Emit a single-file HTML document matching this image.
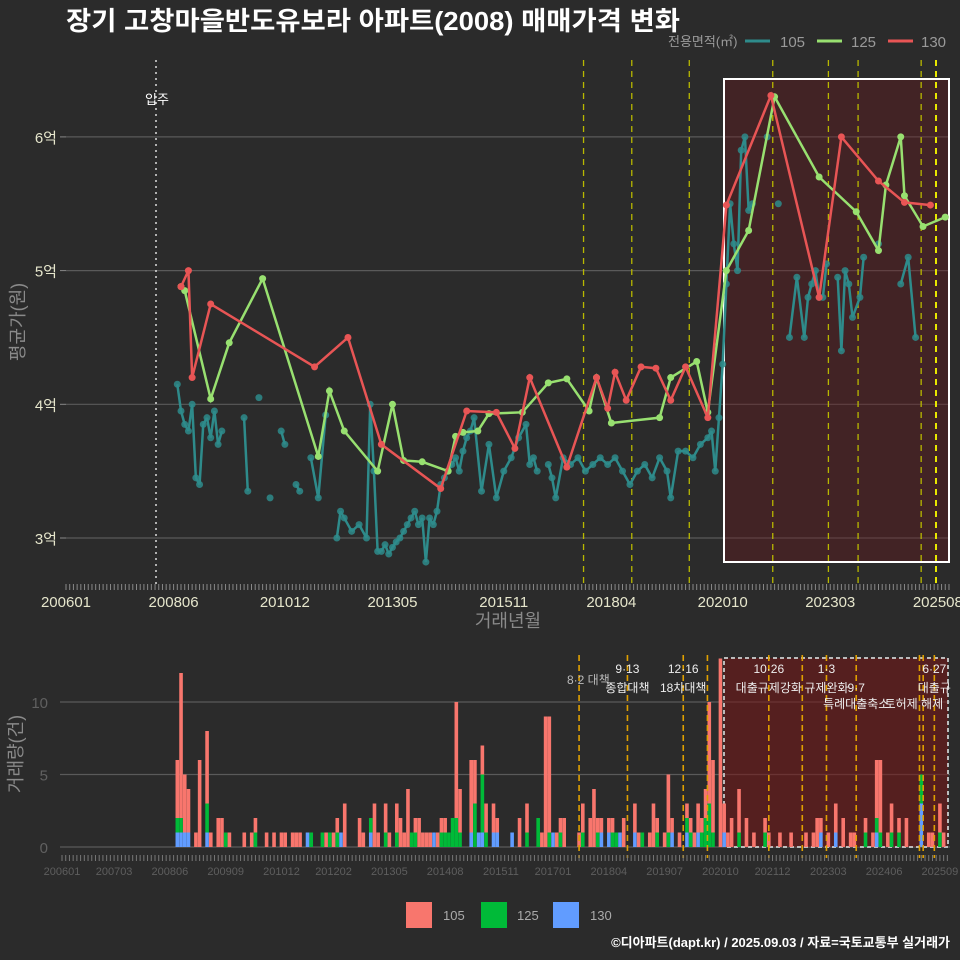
<!DOCTYPE html>
<html><head><meta charset="utf-8">
<style>
html,body{margin:0;padding:0;background:#2b2b2b;}
svg{display:block;font-family:"Liberation Sans","Noto Sans CJK KR",sans-serif;}
</style></head>
<body>
<svg id="chart" width="960" height="960" viewBox="0 0 960 960">
<rect x="0" y="0" width="960" height="960" fill="#2b2b2b"/>
<text x="66" y="30" fill="#ffffff" font-size="26" font-weight="bold" textLength="614" lengthAdjust="spacingAndGlyphs">장기 고창마을반도유보라 아파트(2008) 매매가격 변화</text>
<g>
<text x="668" y="46" fill="#9a9a9a" font-size="13">전용면적(㎡)</text>
<line x1="745" y1="41" x2="770" y2="41" stroke="#2e8b8b" stroke-width="3"/>
<text x="780" y="47" fill="#9a9a9a" font-size="15">105</text>
<line x1="817" y1="41" x2="842" y2="41" stroke="#98e070" stroke-width="3"/>
<text x="851" y="47" fill="#9a9a9a" font-size="15">125</text>
<line x1="888" y1="41" x2="913" y2="41" stroke="#e85555" stroke-width="3"/>
<text x="921" y="47" fill="#9a9a9a" font-size="15">130</text>
</g>
<g id="top"></g>
<g id="bottom"></g>
<g>
<rect x="406" y="902" width="26" height="26" fill="#f8766d"/>
<text x="443" y="920" fill="#aaaaaa" font-size="13">105</text>
<rect x="481" y="902" width="26" height="26" fill="#00ba38"/>
<text x="517" y="920" fill="#aaaaaa" font-size="13">125</text>
<rect x="553" y="902" width="26" height="26" fill="#619cff"/>
<text x="590" y="920" fill="#aaaaaa" font-size="13">130</text>
</g>
<text x="950" y="947" text-anchor="end" fill="#ffffff" font-size="13" font-weight="bold">©디아파트(dapt.kr) / 2025.09.03 / 자료=국토교통부 실거래가</text>
</svg>
<script>
// ---- price data (month index from 2006-01, price in 억) ----
const redMonths = [31,33,34,39,67,76,85,101,108,116,121,125,135,143,146,148,151,155,159,163,167,173,178,190,203,209,219,226,233];
const redValues = [4.88,5.0,4.2,4.75,4.28,4.5,3.7,3.37,3.95,3.94,3.67,4.2,3.53,4.2,3.97,4.24,4.03,4.28,4.27,4.03,4.28,3.9,5.49,6.31,4.8,6.0,5.67,5.51,5.49];
const greenMonths = [31,32,39,44,53,68,71,75,84,88,91,96,103,105,107,111,114,123,130,135,141,143,147,160,163,170,173,178,184,191,203,213,219,221,225,226,231,237];
const greenValues = [4.88,4.85,4.04,4.46,4.94,3.61,4.1,3.8,3.5,4.0,3.58,3.57,3.5,3.76,3.79,3.8,3.93,3.94,4.16,4.19,3.95,4.2,3.86,3.9,4.2,4.32,3.94,5.0,5.3,6.3,5.7,5.44,5.15,5.64,6.0,5.56,5.33,5.4];
const tealMonths = ["200807","200808","200809","200810","200811","200812","200901","200902","200903","200904","200905","200906","200907","201001","201002","201005","201008","201011","201012","201103","201104","201107","201109","201111","201202","201203","201204","201206","201208","201210","201211","201212","201301","201302","201303","201304","201305","201306","201307","201308","201309","201310","201311","201312","201401","201402","201403","201404","201405","201406","201407","201408","201409","201410","201411","201412","201501","201502","201503","201505","201507","201509","201511","201601","201603","201605","201606","201607","201608","201611","201612","201701","201703","201705","201707","201709","201711","201801","201803","201805","201807","201809","201811","201901","201903","201905","201907","201908","201910","201912","202002","202004","202006","202007","202008","202009","202010","202011","202012","202101","202102","202103","202104","202105","202106","202110","202201","202204","202206","202208","202209","202210","202211","202212","202301","202302","202305","202306","202307","202308","202309","202311","202312","202404","202410","202412","202502"];
const tealValues = [4.15,3.95,3.85,3.8,4.0,3.45,3.4,3.85,3.9,3.75,3.95,3.7,3.8,3.9,3.35,4.05,3.3,3.8,3.7,3.4,3.35,3.6,3.3,3.92,3.0,3.2,3.15,3.05,3.1,3.0,4.0,3.5,2.9,2.9,2.95,2.88,2.93,2.97,3.0,3.05,3.1,3.15,3.2,3.1,3.15,2.82,3.15,3.1,3.2,3.4,3.45,3.5,3.55,3.6,3.5,3.65,3.75,3.8,3.9,3.35,3.7,3.3,3.5,3.6,3.75,3.85,3.55,3.6,3.5,3.55,3.45,3.3,3.6,3.55,3.6,3.5,3.55,3.6,3.55,3.6,3.5,3.4,3.5,3.55,3.45,3.6,3.5,3.3,3.65,3.65,3.6,3.7,3.75,3.8,3.5,3.9,4.3,4.9,5.5,5.2,5.0,5.9,6.0,5.45,5.5,6.0,5.5,4.5,4.95,4.5,4.8,4.9,5.0,4.8,4.8,5.05,4.95,4.4,5.0,4.9,4.65,4.8,5.1,5.2,4.9,5.1,4.5];
const priceTicks = [3,4,5,6];
const priceTickLabels = ["3억","4억","5억","6억"];
const topXTicks = [0,29,59,88,118,147,177,206,235];
const topXLabels = ["200601","200806","201012","201305","201511","201804","202010","202303","202508"];
const policyMonthsTop = [139.5,152.5,168,190.5,205.5,213.5,230.5,234.5];
// ---- volume data ----
const volMonths = [31,32,33,34,36,37,39,40,42,43,44,45,49,51,52,55,57,59,60,62,63,64,66,67,70,71,72,73,74,75,76,80,81,83,84,85,87,88,90,91,92,93,94,95,96,97,98,99,100,101,102,103,104,105,106,107,110,111,112,113,114,116,117,121,123,125,128,129,130,131,132,133,134,135,139,140,142,143,144,145,147,148,149,150,151,154,155,156,158,159,160,162,163,164,166,168,169,170,171,172,173,174,175,177,178,179,180,182,184,186,189,190,193,196,200,202,203,204,206,208,210,212,213,216,218,219,220,222,223,225,227,231,233,234,236,237];
const vol105 = [4,10,4,3,1,6,5,1,2,2,0,1,1,1,1,1,1,1,1,1,1,1,0,0,0,1,0,1,1,0,3,2,1,0,3,1,2,1,2,2,1,4,0,1,2,1,1,1,0,1,1,1,0,0,8,3,5,3,0,2,2,2,1,0,2,2,0,1,9,8,0,1,1,2,1,2,2,4,1,1,1,1,0,0,2,2,1,0,1,3,1,1,4,1,1,1,1,1,2,1,2,7,5,13,2,1,2,3,2,1,1,1,1,1,1,1,2,1,1,2,2,1,1,1,1,4,5,1,2,1,2,0,1,1,2,1];
const vol125 = [1,1,0,0,0,0,2,0,0,0,1,0,0,0,1,0,0,0,0,0,0,0,0,1,1,0,1,0,1,0,0,0,0,1,0,0,1,0,1,0,0,0,1,1,0,0,0,0,0,0,1,1,1,2,2,1,0,3,0,4,1,0,0,0,0,1,2,0,0,1,0,0,1,0,0,1,0,0,1,0,0,1,1,0,0,0,0,1,0,0,1,0,1,0,0,1,1,0,0,1,2,3,1,0,0,0,0,1,0,0,1,0,0,0,0,0,0,0,0,0,0,0,0,1,0,1,1,0,1,1,0,2,0,0,1,0];
const vol130 = [1,1,1,1,0,0,1,0,0,0,0,0,0,0,0,0,0,0,0,0,0,0,1,0,0,0,0,0,0,1,0,0,0,1,0,0,0,0,0,0,0,0,0,0,0,0,0,0,1,0,0,0,0,0,0,0,1,0,1,1,0,1,1,1,0,0,0,0,0,0,1,0,0,0,0,0,0,0,0,1,1,0,0,1,0,1,0,0,0,0,0,0,0,1,0,1,0,0,1,0,0,0,0,0,1,0,0,0,0,0,0,0,0,0,0,0,0,1,0,1,0,0,0,0,0,1,0,0,0,0,0,3,0,0,0,0];
const volTicks = [0,5,10];
const botXTicks = [0,14,29,44,59,73,88,103,118,132,147,162,177,191,206,221,236];
const botXLabels = ["200601","200703","200806","200909","201012","201202","201305","201408","201511","201701","201804","201907","202010","202112","202303","202406","202509"];
const policyMonthsBot = [139,152,167,173.5,190,199,205.5,213.5,230.5,231.5,234.5];
const policyTitles = ["8·2 대책","9·13","12·16","10·26","1·3","6·27"];
const policyTitleMonths = [141.5,152,167,190,205.5,234.5];
const policySubs = ["종합대책","18차대책","대출규제강화","규제완화","9·7","대출규"];
const policySubMonths = [152,167,190,205.5,213.5,234.5];
const policySubs2 = ["특례대출축소","토허제 해제"];
const policySub2Months = [213.5,229];

const NS="http://www.w3.org/2000/svg";
function mk(parent,tag,attrs,name){const e=document.createElementNS(NS,tag);for(const k in attrs)e.setAttribute(k,attrs[k]);


parent.appendChild(e);return e;}
function ym(s){return (parseInt(s.slice(0,4))-2006)*12+parseInt(s.slice(4))-1;}
const topG=document.getElementById('top'), botG=document.getElementById('bottom');
const xT=m=>66+m*3.71;
const yT=v=>538-(v-3)*133.7;
const xB=m=>62+m*3.72;
const yB=v=>847-v*14.5;

// ---- TOP CHART ----
priceTicks.forEach((t,i)=>{
  mk(topG,'line',{x1:66,x2:950,y1:yT(t),y2:yT(t),stroke:'#5a5a5a','stroke-width':1.2},'price-gridline');
  mk(topG,'line',{x1:60,x2:66,y1:yT(t),y2:yT(t),stroke:'#888','stroke-width':1},'price-tick');
  const tx=mk(topG,'text',{x:57,y:yT(t)+6,'text-anchor':'end',fill:'#e6e6cc','font-size':15},'y-tick-label');tx.textContent=priceTickLabels[i];
});
mk(topG,'rect',{x:724,y:79,width:225,height:483,fill:'rgba(110,20,25,0.35)',stroke:'#ffffff','stroke-width':2},'highlight-box');
mk(topG,'line',{x1:156,x2:156,y1:60,y2:587,stroke:'#dddddd','stroke-width':1.5,'stroke-dasharray':'2,4'},'move-in-line');
const mi=mk(topG,'text',{x:157,y:104,'text-anchor':'middle',fill:'#ffffff','font-size':13},'move-in-label');mi.textContent='입주';
policyMonthsTop.forEach(m=>{
  mk(topG,'line',{x1:xT(m),x2:xT(m),y1:60,y2:587,stroke:m>234?'#e8e800':'#b8b800','stroke-width':m>234?2:1.3,'stroke-dasharray':'6,5'},'policy-line');
});
for(let m=0;m<=238;m++){mk(topG,'line',{x1:xT(m),x2:xT(m),y1:584,y2:590,stroke:'#888','stroke-width':1},'x-minor-tick');}
topXTicks.forEach((m,i)=>{const t=mk(topG,'text',{x:xT(m),y:607,'text-anchor':'middle',fill:'#e6e6cc','font-size':15},'x-tick-label');t.textContent=topXLabels[i];});
const xt=mk(topG,'text',{x:508,y:627,'text-anchor':'middle',fill:'#8a8a8a','font-size':18},'x-axis-title');xt.textContent='거래년월';
const yt=mk(topG,'text',{x:0,y:0,'text-anchor':'middle',fill:'#8a8a8a','font-size':18,transform:'translate(24,322) rotate(-90)'},'y-axis-title');yt.textContent='평균가(원)';
const tm=tealMonths.map(ym);
for(let i=1;i<tm.length;i++){
  if(tm[i]-tm[i-1]<=2){
    mk(topG,'line',{x1:xT(tm[i-1]),y1:yT(tealValues[i-1]),x2:xT(tm[i]),y2:yT(tealValues[i]),stroke:'#2e8b8b','stroke-width':2.5},'series-105-segment');
  }
}
tm.forEach((m,i)=>{mk(topG,'circle',{cx:xT(m),cy:yT(tealValues[i]),r:3.5,fill:'#2e8b8b','fill-opacity':0.85},'point-105');});
function series(months,vals,color,name){
  mk(topG,'polyline',{points:months.map((m,i)=>xT(m)+','+yT(vals[i])).join(' '),fill:'none',stroke:color,'stroke-width':2.5},'line-'+name);
  months.forEach((m,i)=>{mk(topG,'circle',{cx:xT(m),cy:yT(vals[i]),r:3.5,fill:color},'point-'+name);});
}
series(greenMonths,greenValues,'#98e070','125');
series(redMonths,redValues,'#e85555','130');

// ---- BOTTOM CHART ----
volTicks.forEach(t=>{
  mk(botG,'line',{x1:60,x2:950,y1:yB(t),y2:yB(t),stroke:'#5a5a5a','stroke-width':1.2},'volume-gridline');
  const tx=mk(botG,'text',{x:48,y:yB(t)+6,'text-anchor':'end',fill:'#606060','font-size':15},'volume-tick-label');tx.textContent=t;
});
const vyt=mk(botG,'text',{x:0,y:0,'text-anchor':'middle',fill:'#8a8a8a','font-size':18,transform:'translate(22,754) rotate(-90)'},'volume-axis-title');vyt.textContent='거래량(건)';
mk(botG,'rect',{x:724,y:658,width:224,height:189,fill:'rgba(120,22,22,0.55)',stroke:'#bbbbbb','stroke-width':2,'stroke-dasharray':'4,3'},'volume-highlight-box');
volMonths.forEach((m,i)=>{
  const x=xB(m)-1.8,w=3.6;
  let base=0;
  [[vol130[i],'#619cff','bar-130'],[vol125[i],'#00ba38','bar-125'],[vol105[i],'#f8766d','bar-105']].forEach(s=>{
    if(s[0]>0){mk(botG,'rect',{x:x,y:yB(base+s[0]),width:w,height:yB(base)-yB(base+s[0]),fill:s[1]},s[2]);base+=s[0];}
  });
});
policyMonthsBot.forEach(m=>{
  mk(botG,'line',{x1:xB(m),x2:xB(m),y1:655,y2:858,stroke:'#e0a000','stroke-width':1.6,'stroke-dasharray':'6,4'},'policy-line-volume');
});
for(let m=0;m<=238;m++){mk(botG,'line',{x1:xB(m),x2:xB(m),y1:855,y2:861,stroke:'#777','stroke-width':1},'volume-x-minor-tick');}
botXTicks.forEach((m,i)=>{const t=mk(botG,'text',{x:xB(m),y:875,'text-anchor':'middle',fill:'#5e5e5e','font-size':11},'volume-x-tick-label');t.textContent=botXLabels[i];});
policyTitles.forEach((s,i)=>{const t=mk(botG,'text',{x:xB(policyTitleMonths[i]),y:i===0?684:673,'text-anchor':'middle',fill:i===0?'#bbbbbb':'#eeeeee','font-size':12},'policy-title');t.textContent=s;});
policySubs.forEach((s,i)=>{const t=mk(botG,'text',{x:xB(policySubMonths[i]),y:692,'text-anchor':'middle',fill:'#eeeeee','font-size':12},'policy-subtitle');t.textContent=s;});
policySubs2.forEach((s,i)=>{const t=mk(botG,'text',{x:xB(policySub2Months[i]),y:708,'text-anchor':'middle',fill:'#eeeeee','font-size':12},'policy-subtitle-2');t.textContent=s;});
</script>
</body></html>
